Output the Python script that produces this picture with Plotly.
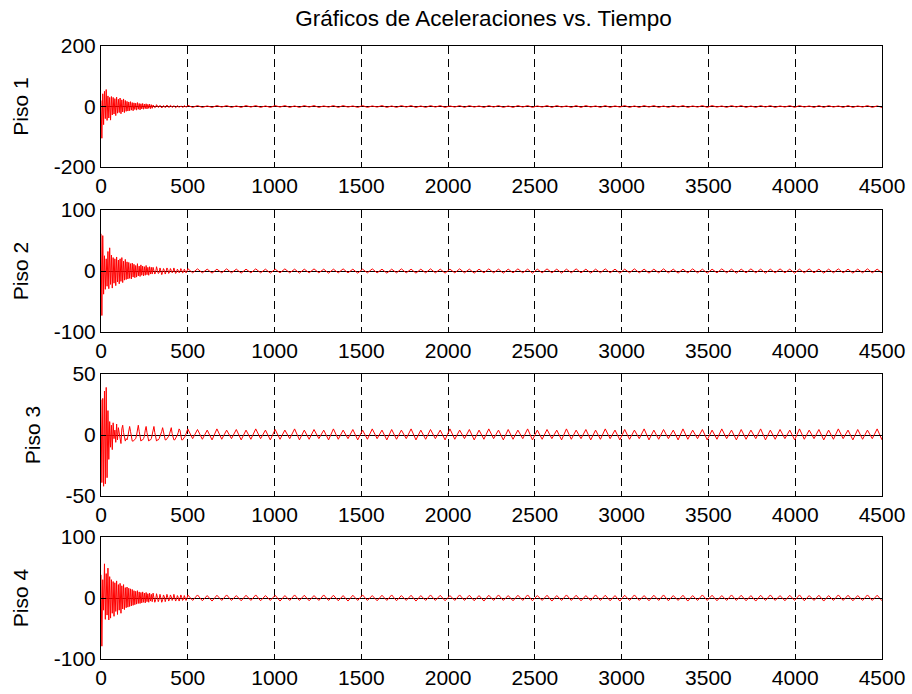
import numpy as np
import plotly.graph_objects as go

# ---------------- data ----------------
title_text = "Gráficos de Aceleraciones vs. Tiempo"
floor_labels = ["Piso 1", "Piso 2", "Piso 3", "Piso 4"]
y_limits = [200, 100, 50, 100]
x_ticks = [0, 500, 1000, 1500, 2000, 2500, 3000, 3500, 4000, 4500]

dense_start, dense_step = 0, 5          # early transient sampling (t = 0..495)
late_start, late_end = 500, 4500        # steady oscillation part

# early transient values (t = 0, 5, 10, ... 495)
p1_early = [20, -105, 42, -60, 50, -40, 56, -46, 35, -38,
            30, -45, 33, -28, 30, -25, 26, -30, 31, -22,
            24, -20, 28, -24, 22, -18, 25, -20, 20, -16,
            17, -15, 15, -14, 16, -12, 13, -14, 12, -10,
            11, -12, 13, -9, 10, -11, 9, -8, 10, -9,
            8, -7, 9, -8, 7, -6, 8, -7, 6, -6,
            5, 1, -4, -2, 6, 2, -3, -1, 4, 0,
            -5, -2, 3, 1, -4, 0, 5, 1, -3, -2,
            4, 2, -3, -1, 3, 0, -4, -2, 3, 1,
            -3, 0, 2, 1, -3, -2, 3, 1, -2, -1]
p2_early = [61, -73, 58, -38, 25, -30, 20, -25, 32, -29,
            38, -22, 26, -28, 22, -20, 20, -24, 23, -18,
            18, -21, 20, -17, 22, -19, 16, -15, 19, -14,
            15, -13, 14, -12, 12, -13, 13, -10, 11, -11,
            9, -10, 12, -8, 8, -9, 10, -7, 8, -8,
            7, -7, 9, -6, 6, -7, 7, -5, 6, -5,
            6, 2, -5, -2, 7, 1, -4, -3, 5, 0,
            -6, -2, 4, 1, -5, -1, 5, 2, -4, -2,
            4, 1, -3, -1, 5, 0, -4, -2, 3, 1,
            -3, -1, 4, 1, -3, -2, 3, 0, -3, -1]
p3_early = [29, -39, 30, -42, 36, -40, 39, -35, 20, -20,
            11, -10, 8, -12, 10, -3, 4, -6, 9, -4,
            6, 2, -3, -7, 5, 8, 2, -4, -5, -3,
            -4, -1, 4, 7, 3, -2, -5, -5, -4, -4,
            -3, 0, 5, 8, 3, -3, -5, -4, -4, -3,
            -1, 4, 7, 2, -3, -5, -4, -4, -3, 0,
            4, 7, 2, -3, -5, -4, -4, -3, -1, 0,
            3, 6, 3, -2, -4, -4, -3, -3, -1, 1,
            5, 6, 1, -3, -4, -4, -3, -2, 0, 2,
            5, 4, -1, -4, -4, -3, -3, -1, 1, 4]
p4_early = [38, -79, 30, -20, 56, -35, 40, -28, 49, -36,
            35, -33, 30, -25, 27, -30, 25, -22, 28, -27,
            22, -20, 24, -25, 20, -18, 22, -19, 17, -16,
            18, -15, 16, -14, 15, -13, 14, -12, 12, -11,
            11, -10, 12, -9, 10, -9, 9, -8, 10, -7,
            8, -8, 9, -6, 7, -7, 8, -5, 6, -6,
            8, 2, -7, -3, 7, 1, -6, -2, 6, 0,
            -7, -3, 5, 2, -6, -1, 6, 1, -5, -2,
            5, 2, -4, -1, 6, 0, -5, -2, 4, 1,
            -5, -1, 5, 1, -4, -2, 4, 0, -4, -1]

# steady oscillation values (evenly spaced from t = 500 to t = 4500)
p1_late = [4, -3,
           3, -3, 2, -3, 3, -2, 3, -3, 2, -3,
           3, -2, 3, -3, 2, -3, 3, -2, 3, -3,
           2, -3, 3, -2, 3, -3, 2, -2, 3, -3,
           3, -2, 2, -3, 3, -3, 2, -2, 3, -3,
           2, -3, 3, -2, 3, -3, 2, -3, 3, -2,
           3, -3, 2, -2, 3, -3, 3, -2, 2, -3,
           3, -2, 3, -3, 2, -3, 3, -2, 3, -3,
           2, -2, 3, -3, 3, -2, 2, -3, 3, -3,
           3, -2, 2, -3, 3, -3, 2, -2, 3, -3,
           2, -3, 3, -2, 3, -3, 2, -3, 3, -2,
           3, -3, 2, -2, 3, -3, 3, -2, 2, -3,
           3, -2, 3, -3, 2, -3, 3, -2, 3, -3,
           2, -2, 3, -3, 3, -2, 2, -3, 3, -3,
           3, -2, 2, -3, 3, -3, 2, -2, 3, -3,
           2, -3]
p2_late = [4, -3,
           3.5, -3, 3, -3.5, 3, -3, 3.5, -3, 3, -3.5,
           3, -3, 3.5, -3, 3, -3.5, 3, -3, 3.5, -3,
           3, -3.5, 3, -3, 3.5, -3, 3, -3.5, 3, -3,
           3.5, -3, 3, -3.5, 3, -3, 3.5, -3, 3, -3.5,
           3, -3, 3.5, -3, 3, -3.5, 3, -3, 3.5, -3,
           3, -3.5, 3, -3, 3.5, -3, 3, -3.5, 3, -3,
           3.5, -3, 3, -3.5, 3, -3, 3.5, -3, 3, -3.5,
           3, -3, 3.5, -3, 3, -3.5, 3, -3, 3.5, -3,
           3, -3.5, 3, -3, 3.5, -3, 3, -3.5, 3, -3,
           3.5, -3, 3, -3.5, 3, -3, 3.5, -3, 3, -3.5,
           3, -3, 3.5, -3, 3, -3.5, 3, -3, 3.5, -3,
           3, -3.5, 3, -3, 3.5, -3, 3, -3.5, 3, -3,
           3.5, -3, 3, -3.5, 3, -3, 3.5, -3, 3, -3.5,
           3, -3, 3.5, -3, 3, -3.5, 3, -3, 3.5, -3,
           3, -3]
p3_late = [5, -3,
           4.5, -3.5, 4, -4, 5, -3.5, 4, -3, 4.5, -4,
           4, -3.5, 5, -3, 4, -4, 4.5, -3.5, 4, -3,
           5, -4, 4, -3.5, 4.5, -3, 4, -4, 5, -3.5,
           4, -3, 4.5, -4, 4, -3.5, 5, -3, 4, -4,
           4.5, -3.5, 4, -3, 5, -4, 4, -3.5, 4.5, -3,
           4, -4, 5, -3.5, 4, -3, 4.5, -4, 4, -3.5,
           5, -3, 4, -4, 4.5, -3.5, 4, -3, 5, -4,
           4, -3.5, 4.5, -3, 4, -4, 5, -3.5, 4, -3,
           4.5, -4, 4, -3.5, 5, -3, 4, -4, 4.5, -3.5,
           4, -3, 5, -4, 4, -3.5, 4.5, -3, 4, -4,
           5, -3.5, 4, -3, 4.5, -4, 4, -3.5, 5, -3,
           4, -4, 4.5, -3.5, 4, -3, 5, -4, 4, -3.5,
           4.5, -3, 4, -4, 5, -3.5, 4, -3, 4.5, -4,
           4, -3.5, 5, -3, 4, -4, 4.5, -3.5, 4, -3,
           5, -4]
p4_late = [5, -4,
           5, -4.5, 4, -5, 4.5, -4, 5, -4, 4, -4.5,
           4.5, -4, 5, -4.5, 4, -4, 4.5, -5, 4, -4,
           5, -4, 4.5, -4.5, 4, -4, 5, -4, 4.5, -4.5,
           4, -5, 4.5, -4, 5, -4, 4, -4.5, 4.5, -4,
           5, -4.5, 4, -4, 4.5, -5, 4, -4, 5, -4,
           4.5, -4.5, 4, -4, 5, -4, 4.5, -4.5, 4, -5,
           4.5, -4, 5, -4, 4, -4.5, 4.5, -4, 5, -4.5,
           4, -4, 4.5, -5, 4, -4, 5, -4, 4.5, -4.5,
           4, -4, 5, -4, 4.5, -4.5, 4, -5, 4.5, -4,
           5, -4, 4, -4.5, 4.5, -4, 5, -4.5, 4, -4,
           4.5, -5, 4, -4, 5, -4, 4.5, -4.5, 4, -4,
           5, -4, 4.5, -4.5, 4, -5, 4.5, -4, 5, -4,
           4, -4.5, 4.5, -4, 5, -4.5, 4, -4, 4.5, -5,
           4, -4, 5, -4, 4.5, -4.5, 4, -4, 5, -4,
           4.5, -4.5]

early_series = [p1_early, p2_early, p3_early, p4_early]
late_series = [p1_late, p2_late, p3_late, p4_late]

# ---------------- figure ----------------
W, H = 912, 694
M_L, M_R, M_T, M_B = 101, 30, 46, 35
plot_h = H - M_T - M_B
# pixel tops/bottoms of the four axes boxes
boxes = [(46, 167), (210, 332), (374, 496), (537, 659)]
title_standoff = [19, 19, 19, 19]

FONT = "Liberation Sans, Arial, Helvetica, sans-serif"

fig = go.Figure()
layout = dict(
    width=W, height=H,
    margin=dict(l=M_L, r=M_R, t=M_T, b=M_B, autoexpand=False),
    paper_bgcolor="white", plot_bgcolor="white",
    showlegend=False,
    font=dict(family=FONT, size=21, color="black"),
    title=dict(text=title_text, x=483.5 / W, xref="container",
               xanchor="center", y=1 - 18 / H, yanchor="middle",
               font=dict(family=FONT, size=22.5, color="black")),
)

for i in range(4):
    early = early_series[i]
    late = late_series[i]
    t_early = dense_start + dense_step * np.arange(len(early))
    t_late = np.linspace(late_start, late_end, len(late))
    t = np.concatenate([t_early, t_late])
    y = np.concatenate([np.array(early, float), np.array(late, float)])
    sfx = "" if i == 0 else str(i + 1)
    fig.add_trace(go.Scatter(x=t, y=y, mode="lines",
                             line=dict(color="#ff0000", width=1),
                             xaxis="x" + sfx, yaxis="y" + sfx,
                             hoverinfo="skip"))
    top, bot = boxes[i]
    d0 = (H - M_B - bot) / plot_h
    d1 = (H - M_B - top) / plot_h
    lim = y_limits[i]
    layout["xaxis" + sfx] = dict(
        domain=[0, 1], anchor="y" + sfx, range=[0, 4500], automargin=False,
        tickmode="array", tickvals=x_ticks, ticktext=[str(v) for v in x_ticks],
        ticks="inside", ticklen=5, tickcolor="black",
        showline=True, linecolor="black", linewidth=1, mirror="ticks",
        showgrid=True, gridcolor="black", gridwidth=1, griddash="8px,5px",
        zeroline=False, tickfont=dict(family=FONT, size=21, color="black"),
    )
    layout["yaxis" + sfx] = dict(
        domain=[d0, d1], anchor="x" + sfx, range=[-lim, lim], automargin=False,
        tickmode="array", tickvals=[-lim, 0, lim],
        ticktext=["-" + str(lim), "0", str(lim)],
        ticks="inside", ticklen=5, tickcolor="black",
        showline=True, linecolor="black", linewidth=1, mirror="ticks",
        showgrid=False, zeroline=True, zerolinecolor="black", zerolinewidth=1,
        tickfont=dict(family=FONT, size=21, color="black"),
        title=dict(text=floor_labels[i], standoff=title_standoff[i],
                   font=dict(family=FONT, size=21, color="black")),
    )

fig.update_layout(**layout)
fig.write_html("out.html")
